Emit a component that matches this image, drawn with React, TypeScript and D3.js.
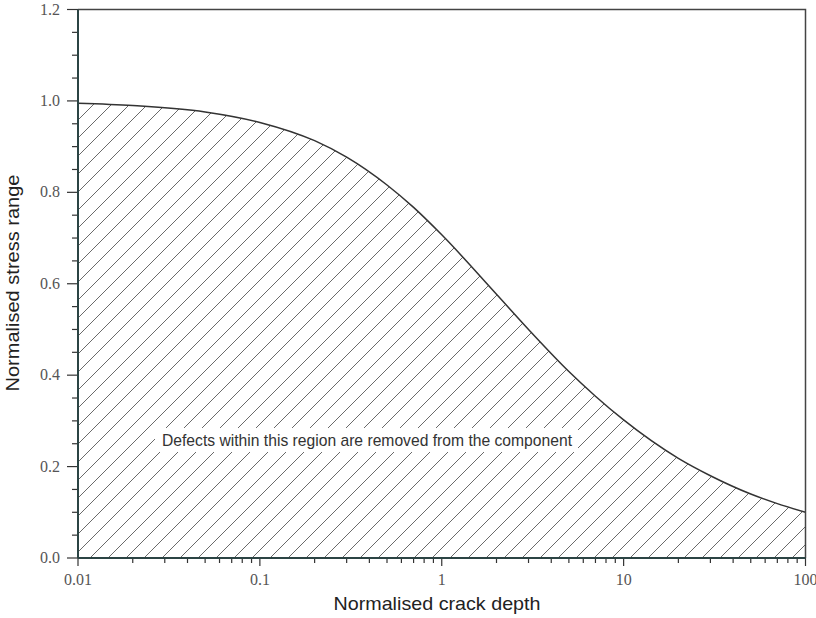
import { useEffect, useRef } from 'react';
import * as d3 from 'd3';

// values
const crackDepth = [0.01, 0.02, 0.05, 0.1, 0.2, 0.3, 0.5, 0.7, 1, 2, 3, 5, 7, 10, 20, 30, 50, 70, 100];
const stressRange = [0.995, 0.99, 0.976, 0.953, 0.913, 0.877, 0.816, 0.767, 0.707, 0.577, 0.5, 0.408, 0.354, 0.302, 0.218, 0.18, 0.14, 0.119, 0.1];

const xMajorTicks = [0.01, 0.1, 1, 10, 100];
const xTickLabels = ['0.01', '0.1', '1', '10', '100'];
const yMajorTicks = [0, 0.2, 0.4, 0.6, 0.8, 1.0, 1.2];

const xTitle = 'Normalised crack depth';
const yTitle = 'Normalised stress range';
const note = 'Defects within this region are removed from the component';

function App() {
  const svgRef = useRef<SVGSVGElement>(null);

  useEffect(() => {
    const svg = d3.select(svgRef.current);
    svg.selectAll('*').remove();

    const left = 78;
    const right = 805.5;
    const top = 9.5;
    const bottom = 558;

    const x = d3.scaleLog().domain([0.01, 100]).range([left, right]);
    const y = d3.scaleLinear().domain([0, 1.2]).range([bottom, top]);

    const data = crackDepth.map((d, i) => ({ x: d, y: stressRange[i] }));

    const defs = svg.append('defs');
    const pat = defs
      .append('pattern')
      .attr('id', 'hatch')
      .attr('patternUnits', 'userSpaceOnUse')
      .attr('width', 18)
      .attr('height', 18);
    pat
      .append('path')
      .attr('d', 'M-2,2 L2,-2 M0,18 L18,0 M16,20 L20,16')
      .attr('stroke', '#6a6a6a')
      .attr('stroke-width', 1);

    const area = d3
      .area<{ x: number; y: number }>()
      .x((d) => x(d.x))
      .y0(y(0))
      .y1((d) => y(d.y))
      .curve(d3.curveMonotoneX);

    svg.append('path').datum(data).attr('d', area).attr('fill', 'url(#hatch)');

    const line = d3
      .line<{ x: number; y: number }>()
      .x((d) => x(d.x))
      .y((d) => y(d.y))
      .curve(d3.curveMonotoneX);

    svg
      .append('path')
      .datum(data)
      .attr('d', line)
      .attr('fill', 'none')
      .attr('stroke', '#333')
      .attr('stroke-width', 1.5);

    // annotation with white box
    svg
      .append('rect')
      .attr('x', 155)
      .attr('y', 428)
      .attr('width', 423)
      .attr('height', 24)
      .attr('fill', '#fff');
    svg
      .append('text')
      .attr('x', 367)
      .attr('y', 446)
      .attr('text-anchor', 'middle')
      .attr('font-family', 'Liberation Sans, Arial, sans-serif')
      .attr('font-size', 17)
      .attr('textLength', 410)
      .attr('lengthAdjust', 'spacingAndGlyphs')
      .attr('fill', '#333')
      .text(note);

    // frame
    svg
      .append('path')
      .attr('d', `M${left},${top} H${right} V${bottom}`)
      .attr('fill', 'none')
      .attr('stroke', '#444')
      .attr('stroke-width', 1.5);

    // minor ticks
    const xMinor: number[] = [];
    [0.01, 0.1, 1, 10].forEach((dec) => {
      for (let k = 2; k <= 9; k++) xMinor.push(dec * k);
    });
    const yMinor = d3.range(0, 1.2001, 0.05).filter((v) => Math.abs(v * 5 - Math.round(v * 5)) > 1e-6);

    const xAxis = svg.append('g').attr('transform', `translate(0,${bottom})`);
    xAxis
      .selectAll('line.minor')
      .data(xMinor)
      .enter()
      .append('line')
      .attr('x1', (d) => x(d))
      .attr('x2', (d) => x(d))
      .attr('y1', 0)
      .attr('y2', 5)
      .attr('stroke', '#333')
      .attr('stroke-width', 1.2);
    xAxis
      .selectAll('line.major')
      .data(xMajorTicks)
      .enter()
      .append('line')
      .attr('x1', (d) => x(d))
      .attr('x2', (d) => x(d))
      .attr('y1', 0)
      .attr('y2', 8)
      .attr('stroke', '#333')
      .attr('stroke-width', 1.2);
    xAxis
      .selectAll('text')
      .data(xMajorTicks)
      .enter()
      .append('text')
      .attr('x', (d) => x(d))
      .attr('y', 27)
      .attr('text-anchor', 'middle')
      .attr('font-family', 'Liberation Serif, Times New Roman, serif')
      .attr('font-size', 16)
      .attr('fill', '#555')
      .text((d, i) => xTickLabels[i]);
    xAxis
      .append('line')
      .attr('x1', left)
      .attr('x2', right)
      .attr('stroke', '#2b4444')
      .attr('stroke-width', 2);

    const yAxis = svg.append('g').attr('transform', `translate(${left},0)`);
    yAxis
      .selectAll('line.minor')
      .data(yMinor)
      .enter()
      .append('line')
      .attr('x1', -6)
      .attr('x2', 0)
      .attr('y1', (d) => y(d))
      .attr('y2', (d) => y(d))
      .attr('stroke', '#333')
      .attr('stroke-width', 1.2);
    yAxis
      .selectAll('line.major')
      .data(yMajorTicks)
      .enter()
      .append('line')
      .attr('x1', -11)
      .attr('x2', 0)
      .attr('y1', (d) => y(d))
      .attr('y2', (d) => y(d))
      .attr('stroke', '#333')
      .attr('stroke-width', 1.2);
    yAxis
      .selectAll('text')
      .data(yMajorTicks)
      .enter()
      .append('text')
      .attr('x', -18)
      .attr('y', (d) => y(d) + 5)
      .attr('text-anchor', 'end')
      .attr('font-family', 'Liberation Serif, Times New Roman, serif')
      .attr('font-size', 16)
      .attr('fill', '#555')
      .text((d) => d3.format('.1f')(d));
    yAxis
      .append('line')
      .attr('y1', top)
      .attr('y2', bottom)
      .attr('stroke', '#2b4444')
      .attr('stroke-width', 2);

    // axis titles
    svg
      .append('text')
      .attr('x', 437)
      .attr('y', 610)
      .attr('text-anchor', 'middle')
      .attr('font-family', 'Liberation Sans, Arial, sans-serif')
      .attr('font-size', 19)
      .attr('textLength', 207)
      .attr('lengthAdjust', 'spacingAndGlyphs')
      .attr('fill', '#222')
      .text(xTitle);
    svg
      .append('text')
      .attr('transform', `translate(19,283) rotate(-90)`)
      .attr('text-anchor', 'middle')
      .attr('font-family', 'Liberation Sans, Arial, sans-serif')
      .attr('font-size', 19)
      .attr('textLength', 217)
      .attr('lengthAdjust', 'spacingAndGlyphs')
      .attr('fill', '#222')
      .text(yTitle);
  }, []);

  return (
    <svg
      ref={svgRef}
      width={816}
      height={618}
      style={{ position: 'absolute', left: 0, top: 0, background: '#fff' }}
    />
  );
}

export default App;
